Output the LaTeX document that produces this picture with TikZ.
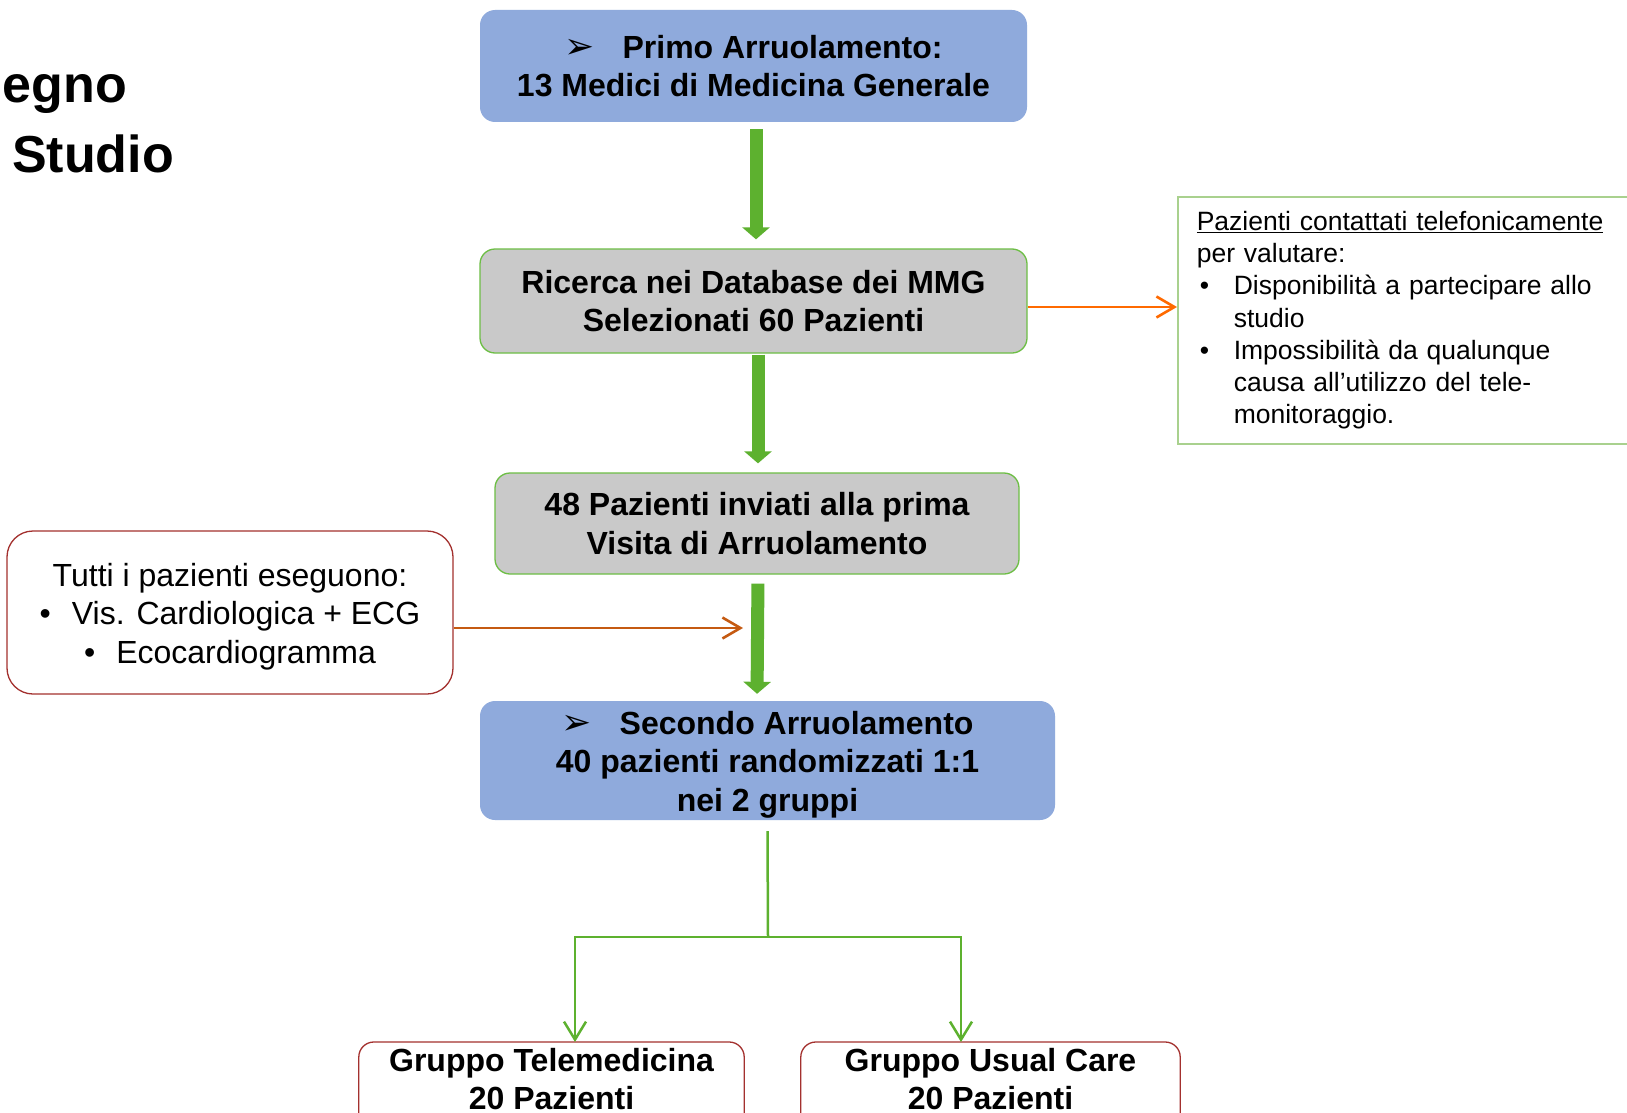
\documentclass[tikz,border=0pt]{standalone}
\usepackage{fontspec}
\setmainfont{Liberation Sans}
\newfontfamily\symfont{DejaVu Sans}
\usetikzlibrary{arrows.meta,calc}

\definecolor{boxblue}{HTML}{8FAADC}
\definecolor{boxgray}{HTML}{C9C9C9}
\definecolor{edgegreen}{HTML}{6DBE45}
\definecolor{arrowgreen}{HTML}{5DB12F}
\definecolor{palegreen}{HTML}{A9D18E}
\definecolor{darkred}{HTML}{A3302E}
\definecolor{brightorange}{HTML}{FF6A00}
\definecolor{burntorange}{HTML}{C55A11}

\newcommand{\arrowbullet}{{\symfont\fontsize{36}{40}\selectfont ➢}}
\newcommand{\itembul}{\makebox[37pt][l]{\hspace{3pt}•}}
\newcommand{\topstrut}{\rule{0pt}{31pt}}

\tikzset{
  bigtext/.style={font=\fontsize{32}{38.4}\selectfont\bfseries, align=center, text=black},
  bluebox/.style={bigtext, fill=boxblue, rounded corners=15pt, inner sep=0pt},
  graybox/.style={bigtext, fill=boxgray, draw=edgegreen, line width=1.3pt, rounded corners=15pt, inner sep=0pt},
  notebox/.style={font=\fontsize{32}{38.4}\selectfont, align=center, draw=darkred, line width=1.3pt,
                  fill=white, rounded corners=26pt, inner sep=0pt},
  sidebox/.style={font=\fontsize{26.5}{32.2}\selectfont, align=left, draw=palegreen, line width=1.6pt,
                  fill=white, inner xsep=19pt, inner ysep=0pt},
  groupbox/.style={bigtext, inner xsep=0pt, inner ysep=6pt},
  redframe/.style={draw=darkred, line width=1.3pt, rounded corners=15pt},
  bigarrow/.style={arrowgreen, line width=13pt, -{Triangle[width=27pt,length=12pt]}},
  treeline/.style={arrowgreen, line width=2.5pt},
  treearrow/.style={treeline, -{Straight Barb[length=18pt,width=22pt,line width=2.5pt]}},
  orangearrow/.style={line width=2.6pt, -{Straight Barb[length=18pt,width=21pt,line width=2.6pt]}},
  titletext/.style={font=\fontsize{52}{62}\selectfont\bfseries, inner sep=0pt}
}

\begin{document}
\begin{tikzpicture}[x=1pt,y=-1pt]
  \useasboundingbox (0,0) rectangle (1627,1113);
  \fill[white] (0,0) rectangle (1627,1113);
  \clip (0,0) rectangle (1627,1113);

  % title
  \node[titletext, anchor=base east] (t1) at (127,103) {egno};
  \node[titletext, anchor=base east] (t2) at (174,172) {Studio};

  % main flow
  \node[bluebox, minimum width=547pt, minimum height=112pt] (b1) at (753.5,66)
    {\arrowbullet\hspace{28pt}Primo Arruolamento:\\13 Medici di Medicina Generale};
  \node[graybox, minimum width=547pt, minimum height=104pt] (b2) at (753.5,301)
    {Ricerca nei Database dei MMG\\Selezionati 60 Pazienti};
  \node[graybox, minimum width=524pt, minimum height=101pt] (b3) at (757,523.5)
    {48 Pazienti inviati alla prima\\Visita di Arruolamento};
  \node[bluebox, minimum width=575pt, minimum height=119pt] (b4) at (767.5,760.5)
    {\topstrut\arrowbullet\hspace{28pt}Secondo Arruolamento\\40 pazienti randomizzati 1:1\\nei 2 gruppi};

  % side notes
  \node[sidebox, anchor=north west, minimum width=480pt, minimum height=247pt, text width=442pt] (rb) at (1177,196)
    {\underline{Pazienti contattati telefonicamente}\\
     per valutare:\\
     \itembul Disponibilità a partecipare allo\\
     \hspace*{37pt}studio\\
     \itembul Impossibilità da qualunque\\
     \hspace*{37pt}causa all’utilizzo del tele-\\
     \hspace*{37pt}monitoraggio.};
  \node[notebox, minimum width=446pt, minimum height=163pt] (tutti) at (230,612.5)
    {\topstrut Tutti i pazienti eseguono:\\
     •\hspace{21pt}Vis. Cardiologica + ECG\\
     •\hspace{21pt}Ecocardiogramma};

  % groups
  \node[groupbox, anchor=north, minimum width=385pt] (g1) at (551.5,1042)
    {Gruppo Telemedicina\\20 Pazienti};
  \node[groupbox, anchor=north, minimum width=379pt] (g2) at (990.5,1042)
    {Gruppo Usual Care\\20 Pazienti};
  \draw[redframe] (g1.north west |- 0,1150) -- (g1.north west) -- (g1.north east) -- (g1.north east |- 0,1150);
  \draw[redframe] (g2.north west |- 0,1150) -- (g2.north west) -- (g2.north east) -- (g2.north east |- 0,1150);

  % thick flow arrows
  \draw[bigarrow, shorten <=7pt, shorten >=9pt] ([xshift=2.5pt]b1.south) -- ([xshift=2.5pt]b2.north);
  \draw[bigarrow, shorten <=1pt, shorten >=9pt] ([xshift=4.5pt]b2.south) -- ([xshift=1pt]b3.north);
  \draw[bigarrow, shorten <=9pt, shorten >=7pt] ([xshift=1pt]b3.south) -- (b3.south |- b4.north);

  % orange side arrows
  \coordinate (out) at ([yshift=-6pt]b2.east);
  \coordinate (into) at (743,628);
  \draw[orangearrow, brightorange] (out) -- (rb.west |- out);
  \draw[orangearrow, burntorange] (tutti.east |- into) -- (into);

  % randomisation split
  \coordinate (split) at (768,937);
  \draw[treeline] ([yshift=-11pt]b4.south) -- (split);
  \draw[treearrow] (split) -| ([xshift=23.5pt]g1.north);
  \draw[treearrow] (split) -| ([xshift=-29.5pt]g2.north);
\end{tikzpicture}
\end{document}
